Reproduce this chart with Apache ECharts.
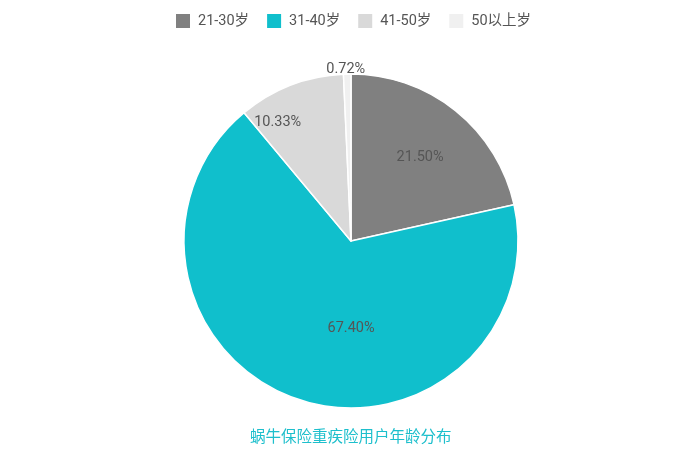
<!DOCTYPE html>
<html>
<head>
<meta charset="utf-8">
<script src="https://cdn.jsdelivr.net/npm/echarts@6/dist/echarts.min.js"></script>
<style>
  html, body { margin: 0; padding: 0; background: #fff; }
  #main { width: 685px; height: 459px; }
</style>
</head>
<body>
<div id="main"></div>
<script>
// 年龄段及占比
const ageGroups = ['21-30岁', '31-40岁', '41-50岁', '50以上岁'];
const ageShares = [21.50, 67.40, 10.33, 0.72];
const sliceColors = ['#808080', '#10bfcc', '#d9d9d9', '#f0f0f0'];
const chartTitle = '蜗牛保险重疾险用户年龄分布';
// 标签微调（原图标签不在扇区正中）
const labelNudge = [[15, -16], [28, 5], [-42, -38], [23, -5]];

const chart = echarts.init(document.getElementById('main'));

const pieData = ageGroups.map(function (name, i) {
  const item = {
    name: name,
    value: ageShares[i],
    itemStyle: { color: sliceColors[i] },
    label: { offset: labelNudge[i] }
  };
  if (ageShares[i] < 2) {
    // 太小的扇区标签放外面
    item.label.position = 'outside';
    item.label.distance = 2;
    item.labelLine = { show: false, length: 0, length2: 0 };
  }
  return item;
});

const option = {
  backgroundColor: '#fff',
  textStyle: { fontFamily: 'Roboto, "Noto Sans CJK SC", sans-serif' },
  legend: {
    top: 12,
    left: 174,
    padding: 0,
    itemWidth: 16,
    itemHeight: 16,
    itemGap: 16,
    icon: 'rect',
    textStyle: { color: '#555', fontSize: 14.5, padding: [0, 0, 0, 2] },
    data: ageGroups
  },
  title: {
    text: chartTitle,
    bottom: 8,
    left: 245,
    textStyle: { color: '#1dbfcc', fontSize: 15.5, fontWeight: 'normal' }
  },
  series: [{
    type: 'pie',
    center: [351, 241],
    radius: 167,
    startAngle: 90,
    clockwise: true,
    avoidLabelOverlap: false,
    itemStyle: { borderColor: '#fff', borderWidth: 1.5 },
    label: {
      show: true,
      position: 'inside',
      color: '#555',
      fontSize: 14.5,
      formatter: function (p) { return p.value.toFixed(2) + '%'; }
    },
    labelLine: { show: false },
    emphasis: { scale: false },
    data: pieData
  }]
};

chart.setOption(option);
</script>
</body>
</html>
